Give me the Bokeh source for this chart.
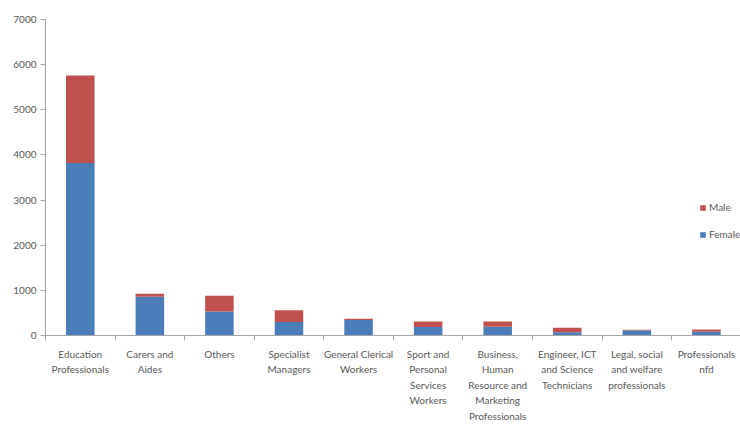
from bokeh.plotting import figure
from bokeh.models import Range1d, FixedTicker, ColumnDataSource, Legend, LegendItem
from bokeh.embed import file_html
from bokeh.resources import INLINE

# Occupational groups (tick labels wrap over several lines)
categories = [
    "Education\nProfessionals",
    "Carers and\nAides",
    "Others",
    "Specialist\nManagers",
    "General Clerical\nWorkers",
    "Sport and\nPersonal\nServices\nWorkers",
    "Business,\nHuman\nResource and\nMarketing\nProfessionals",
    "Engineer, ICT\nand Science\nTechnicians",
    "Legal, social\nand welfare\nprofessionals",
    "Professionals\nnfd",
]
female = [3820, 860, 530, 300, 345, 190, 195, 70, 110, 85]
male = [1940, 65, 350, 260, 25, 120, 115, 100, 15, 50]
y_ticks = [0, 1000, 2000, 3000, 4000, 5000, 6000, 7000]

centers = [i + 0.5 for i in range(len(categories))]
boundaries = [i for i in range(len(categories) + 1)]
totals = [f + m for f, m in zip(female, male)]

source = ColumnDataSource(dict(
    x=centers, female=female, male=male, total=totals,
    zero=[0] * len(female),
))

p = figure(
    width=740, height=424,
    output_backend="svg", toolbar_location=None,
    x_range=Range1d(0, 9.99), y_range=Range1d(0, 7000),
    min_border_left=45, min_border_right=0,
    min_border_top=19, min_border_bottom=89,
    background_fill_color="white", border_fill_color="white",
)
p.outline_line_color = None
p.xgrid.visible = False
p.ygrid.visible = False

BLUE = "#4a7ebb"
RED = "#c0504d"
bw = 0.41

r_f = p.vbar(x="x", bottom="zero", top="female", width=bw, source=source,
             fill_color=BLUE, line_color=None)
r_m = p.vbar(x="x", bottom="female", top="total", width=bw, source=source,
             fill_color=RED, line_color=None)

FONT = "Lato"
AXIS_GREY = "#a6a6a6"
TEXT_GREY = "#595959"

# X axis: labels at category centres, tick marks between categories
xa = p.xaxis[0]
xa.ticker = FixedTicker(ticks=centers, minor_ticks=boundaries)
xa.major_label_overrides = {c: lab for c, lab in zip(centers, categories)}
xa.major_tick_line_color = None
xa.major_tick_out = 0
xa.major_tick_in = 0
xa.minor_tick_line_color = AXIS_GREY
xa.minor_tick_out = 5
xa.minor_tick_in = 0
xa.axis_line_color = AXIS_GREY
xa.major_label_text_font = FONT
xa.major_label_text_font_size = "10px"
xa.major_label_text_color = TEXT_GREY
xa.major_label_text_line_height = 1.3
xa.major_label_standoff = 7
xa.major_label_orientation = "horizontal"

# Y axis
ya = p.yaxis[0]
ya.ticker = FixedTicker(ticks=y_ticks, minor_ticks=[])
ya.axis_line_color = AXIS_GREY
ya.major_tick_line_color = AXIS_GREY
ya.major_tick_out = 5
ya.major_tick_in = 0
ya.minor_tick_line_color = None
ya.major_label_text_font = FONT
ya.major_label_text_font_size = "10px"
ya.major_label_text_color = TEXT_GREY
ya.major_label_standoff = 4

legend = Legend(
    items=[LegendItem(label="Male", renderers=[r_m]),
           LegendItem(label="Female", renderers=[r_f])],
    location=(654, 95),
    glyph_width=7, glyph_height=7, label_height=10,
    label_standoff=3, spacing=15, padding=0, margin=0,
    border_line_color=None, background_fill_alpha=0,
    label_text_font=FONT, label_text_font_size="10px",
    label_text_color=TEXT_GREY,
)
p.add_layout(legend, "center")

open("out.html", "w").write(file_html(p, INLINE))
